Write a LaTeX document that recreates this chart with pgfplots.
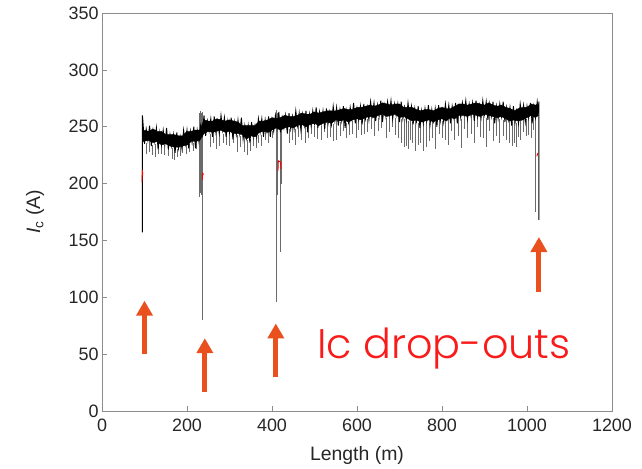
\documentclass[border=0pt]{standalone}
\usepackage{pgfplots}
\pgfplotsset{compat=1.18}
\usepackage{fontspec}
\setmainfont{Liberation Sans}
\newfontfamily\annfont{Poppins Light}
\usetikzlibrary{arrows.meta}
\definecolor{tickgray}{HTML}{262626}
\definecolor{boxgray}{HTML}{8C8C8C}
\definecolor{arroworange}{HTML}{E9501E}
\definecolor{textred}{HTML}{F91A1A}
\definecolor{spikegray}{HTML}{6A6A6A}

\begin{document}
\begin{tikzpicture}
\begin{axis}[
    scale only axis,
    width=510bp, height=398bp,
    xmin=0, xmax=1200, ymin=0, ymax=350,
    xtick={0,200,...,1200}, ytick={0,50,...,350},
    tick align=inside, tick pos=left,
    major tick length=5bp,
    axis line style={boxgray, line width=0.7bp},
    every tick/.style={boxgray, line width=0.7bp},
    tick label style={font=\fontsize{18}{20}\selectfont, text=tickgray},
    xticklabel style={yshift=-4bp},
    /pgf/number format/assume math mode=true,
    /pgf/number format/1000 sep={},
    xlabel={Length (m)},
    ylabel={\textit{I}\textsubscript{c} (A)},
    every axis x label/.style={at={(axis description cs:0.5,-0.111)}, anchor=center,
        font=\fontsize{19.5}{22}\selectfont, text=tickgray},
    every axis y label/.style={at={(axis description cs:-0.131,0.5)}, rotate=90, anchor=center,
        font=\fontsize{19.5}{22}\selectfont, text=tickgray},
    unbounded coords=jump,
    clip=false,
]
% grey downward spikes
\addplot[spikegray, line width=0.6bp, mark=none] coordinates {
(105,236)(105,226)(105,nan) (112,237)(112,228)(112,nan) (118,234)(118,225)(118,nan)
(126,235)(126,223)(126,nan) (133,236)(133,226)(133,nan) (140,233)(140,226)(140,nan)
(147,234)(147,225)(147,nan) (155,232)(155,224)(155,nan) (165,231)(165,222)(165,nan)
(170,232)(170,221)(170,nan) (178,230)(178,223)(178,nan) (185,232)(185,224)(185,nan)
(190,233)(190,227)(190,nan) (198,234)(198,226)(198,nan) (205,235)(205,228)(205,nan)
(214,236)(214,229)(214,nan) (222,238)(222,230)(222,nan)
(228,262)(228,188)(228,nan) (231,264)(231,192)(231,nan)
(234,262)(234,190)(234,nan) (236,263)(236,80)(236,nan)
(255,244)(255,232)(255,nan) (262,245)(262,236)(262,nan) (268,245)(268,230)(268,nan)
(276,245)(276,233)(276,nan) (285,244)(285,236)(285,nan) (292,245)(292,234)(292,nan)
(300,244)(300,233)(300,nan) (310,244)(310,236)(310,nan) (318,243)(318,228)(318,nan)
(326,242)(326,232)(326,nan) (335,240)(335,228)(335,nan) (342,238)(342,225)(342,nan)
(350,239)(350,229)(350,nan) (357,240)(357,233)(357,nan) (362,241)(362,231)(362,nan)
(368,243)(368,236)(368,nan) (375,243)(375,233)(375,nan) (384,245)(384,238)(384,nan)
(392,246)(392,236)(392,nan) (400,246)(400,240)(400,nan)
(410,265)(410,96)(410,nan) (413,262)(413,190)(413,nan) (420,258)(420,140)(420,nan)
(423,255)(423,200)(423,nan)
(440,248)(440,236)(440,nan) (447,250)(447,238)(447,nan) (455,248)(455,234)(455,nan)
(462,251)(462,241)(462,nan) (470,250)(470,238)(470,nan) (478,252)(478,236)(478,nan)
(485,251)(485,240)(485,nan) (492,253)(492,244)(492,nan) (500,251)(500,241)(500,nan)
(507,253)(507,239)(507,nan) (515,251)(515,238)(515,nan) (522,254)(522,245)(522,nan)
(530,253)(530,240)(530,nan) (537,255)(537,241)(537,nan) (545,252)(545,237)(545,nan)
(552,256)(552,238)(552,nan) (560,254)(560,242)(560,nan) (567,256)(567,246)(567,nan)
(575,253)(575,240)(575,nan) (582,256)(582,243)(582,nan) (590,255)(590,244)(590,nan)
(598,257)(598,240)(598,nan) (603,257)(603,247)(603,nan) (610,255)(610,243)(610,nan)
(617,258)(617,244)(617,nan) (625,257)(625,245)(625,nan) (633,259)(633,248)(633,nan)
(641,260)(641,242)(641,nan) (650,258)(650,246)(650,nan) (658,261)(658,249)(658,nan)
(668,258)(668,240)(668,nan) (676,261)(676,245)(676,nan) (683,261)(683,250)(683,nan)
(690,258)(690,243)(690,nan) (697,260)(697,240)(697,nan) (705,257)(705,236)(705,nan)
(712,257)(712,232)(712,nan) (716,258)(716,233)(716,nan) (720,255)(720,230)(720,nan)
(725,258)(725,238)(725,nan) (730,254)(730,236)(730,nan) (738,256)(738,229)(738,nan)
(745,253)(745,234)(745,nan) (750,256)(750,236)(750,nan) (755,252)(755,229)(755,nan)
(762,255)(762,232)(762,nan) (770,253)(770,237)(770,nan) (778,256)(778,240)(778,nan)
(785,254)(785,230)(785,nan) (793,257)(793,244)(793,nan) (800,255)(800,240)(800,nan)
(808,257)(808,238)(808,nan) (815,256)(815,234)(815,nan) (822,258)(822,246)(822,nan)
(830,257)(830,238)(830,nan) (838,260)(838,242)(838,nan) (845,257)(845,231)(845,nan)
(852,261)(852,248)(852,nan) (860,258)(860,240)(860,nan) (868,261)(868,244)(868,nan)
(875,258)(875,236)(875,nan) (882,261)(882,250)(882,nan) (890,259)(890,241)(890,nan)
(898,261)(898,240)(898,nan) (905,258)(905,232)(905,nan) (912,261)(912,246)(912,nan)
(920,258)(920,237)(920,nan) (928,260)(928,242)(928,nan) (935,257)(935,236)(935,nan)
(945,256)(945,242)(945,nan) (952,258)(952,238)(952,nan) (958,255)(958,236)(958,nan)
(965,254)(965,233)(965,nan) (970,256)(970,236)(970,nan) (975,253)(975,232)(975,nan)
(980,256)(980,241)(980,nan) (985,255)(985,238)(985,nan) (992,258)(992,245)(992,nan)
(998,257)(998,242)(998,nan) (1004,259)(1004,243)(1004,nan) (1010,257)(1010,240)(1010,nan)
(1015,260)(1015,247)(1015,nan)
(1020,262)(1020,175)(1020,nan)
};
% dense core of the trace
\addplot[fill=black, draw=black, line width=0.4bp, mark=none] coordinates {
(96,247)(110,246)(120,248)(130,246)(140,246)(150,243)(160,243)(170,243)(180,242)(190,242)
(200,246)(210,246)(220,247)(230,247)(240,256)(250,255)(260,255)(270,257)(280,256)(290,255)
(300,256)(310,255)(320,254)(330,251)(340,251)(350,251)(360,251)(370,255)(380,255)(390,256)
(400,258)(410,257)(420,258)(430,260)(440,259)(450,259)(460,260)(470,262)(480,261)(490,261)
(500,263)(510,262)(520,263)(530,264)(540,264)(550,264)(560,265)(570,266)(580,265)(590,265)
(600,267)(610,267)(620,268)(630,269)(640,268)(650,269)(660,271)(670,270)(680,269)(690,270)
(700,270)(710,267)(720,267)(730,267)(740,265)(750,264)(760,265)(770,265)(780,264)(790,266)
(800,267)(810,266)(820,266)(830,268)(840,270)(850,270)(860,269)(870,270)(880,271)(890,270)
(900,269)(910,271)(920,269)(930,268)(940,269)(950,267)(960,266)(970,264)(980,266)(990,267)
(1000,267)(1010,270)(1020,269)(1027,270)
(1027,260)(1020,258)(1010,260)(1000,258)(990,256)(980,255)(970,256)(960,255)(950,257)(940,259)
(930,258)(920,259)(910,260)(900,261)(890,259)(880,260)(870,261)(860,259)(850,260)(840,260)
(830,257)(820,258)(810,255)(800,257)(790,256)(780,254)(770,256)(760,255)(750,254)(740,256)
(730,255)(720,257)(710,259)(700,258)(690,261)(680,260)(670,259)(660,261)(650,260)(640,258)
(630,259)(620,258)(610,256)(600,257)(590,256)(580,254)(570,256)(560,255)(550,256)(540,253)
(530,254)(520,253)(510,251)(500,253)(490,252)(480,250)(470,252)(460,251)(450,249)(440,250)
(430,249)(420,247)(410,249)(400,247)(390,245)(380,246)(370,245)(360,241)(350,242)(340,239)
(330,243)(320,244)(310,244)(300,246)(290,245)(280,247)(270,246)(260,245)(250,246)(240,244)
(230,238)(220,237)(210,237)(200,234)(190,233)(180,232)(170,232)(160,233)(150,235)(140,234)
(130,237)(120,236)(110,238)(96,237)
};
% noisy envelope of the trace
\addplot[black, line width=0.9bp, mark=none] coordinates {
(95,157)(95,260)(96,256)(100,235)(104,248)(108,238)(112,251)(116,233)(120,247)(124,237)
(128,249)(132,230)(136,245)(140,234)(144,247)(148,235)(152,249)(156,230)(160,243)(164,233)
(168,243)(172,227)(176,245)(180,231)(184,241)(188,231)(192,247)(196,235)(200,247)(204,231)
(208,246)(212,236)(216,250)(220,231)(224,247)(228,237)(232,251)(236,243)(240,260)(244,242)
(248,255)(252,246)(256,257)(260,241)(264,259)(268,245)(272,255)(276,244)(280,260)(284,247)
(288,258)(292,241)(296,255)(300,245)(304,258)(308,239)(312,254)(316,243)(320,256)(324,244)
(328,258)(332,239)(336,251)(340,240)(344,251)(348,236)(352,254)(356,241)(360,251)(364,241)
(368,257)(372,245)(376,257)(380,241)(384,256)(388,246)(392,259)(396,241)(400,256)(404,246)
(408,260)(412,249)(416,263)(420,245)(424,258)(428,249)(432,260)(436,244)(440,262)(444,248)
(448,259)(452,248)(456,264)(460,251)(464,262)(468,247)(472,261)(476,251)(480,264)(484,245)
(488,261)(492,251)(496,264)(500,253)(504,267)(508,249)(512,263)(516,253)(520,264)(524,248)
(528,266)(532,253)(536,263)(540,252)(544,268)(548,255)(552,267)(556,251)(560,265)(564,255)
(568,268)(572,249)(576,264)(580,254)(584,267)(588,257)(592,271)(596,253)(600,266)(604,256)
(608,268)(612,252)(616,270)(620,257)(624,267)(628,256)(632,272)(636,260)(640,271)(644,255)
(648,269)(652,259)(656,273)(660,254)(664,269)(668,259)(672,272)(676,261)(680,273)(684,257)
(688,270)(692,260)(696,270)(700,254)(704,272)(708,257)(712,267)(716,256)(720,271)(724,258)
(728,268)(732,252)(736,266)(740,255)(744,268)(748,249)(752,264)(756,253)(760,266)(764,255)
(768,269)(772,252)(776,265)(780,255)(784,266)(788,250)(792,269)(796,255)(800,265)(804,254)
(808,270)(812,258)(816,269)(820,253)(824,268)(828,258)(832,271)(836,253)(840,268)(844,258)
(848,271)(852,261)(856,273)(860,257)(864,270)(868,260)(872,271)(876,255)(880,273)(884,259)
(888,269)(892,258)(896,273)(900,261)(904,272)(908,256)(912,270)(916,259)(920,272)(924,253)
(928,268)(932,257)(936,270)(940,259)(944,272)(948,254)(952,267)(956,256)(960,267)(964,251)
(968,268)(972,254)(976,264)(980,253)(984,270)(988,258)(992,269)(996,254)(1000,268)(1004,258)
(1008,271)(1012,253)(1016,268)(1020,258)(1024,272)(1027,262)(1028,272)(1028,168)
};
% red detection marks
\addplot[red, line width=0.9bp, mark=none] coordinates {
(94,201)(95,212)(96,207)(96,nan)
(236,203)(237,209)(239,208)(239,nan)
(414,211)(415,220)(420,219)(421,213)(421,nan)
(1023,224)(1026,227)
};
% arrows marking the drop-outs
\addplot[arroworange, line width=5bp, -{Triangle[width=16bp,length=15bp]},
    quiver={u=\thisrow{u}, v=\thisrow{v}}, mark=none]
table {
x y u v
100 50 0 47
242 17 0 47
409 30 0 47
1028 105 0 48
};
\node[anchor=base west, text=textred, font=\annfont\fontsize{41.5}{45}\selectfont, inner sep=0pt]
    at (axis cs:506,46) {Ic drop-outs};
\end{axis}
\pgfresetboundingbox
\path[use as bounding box] ([xshift=-102bp,yshift=-58bp]current axis.south west)
    rectangle ([xshift=30bp,yshift=13bp]current axis.north east);
\end{tikzpicture}
\end{document}
